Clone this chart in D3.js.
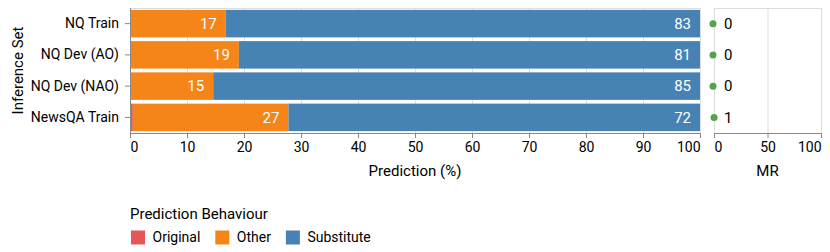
<!DOCTYPE html>
<html>
<head>
<meta charset="utf-8">
<script src="https://cdn.jsdelivr.net/npm/d3@7"></script>
<style>
  body { margin: 0; background: #fff; }
  text { font-family: Roboto, sans-serif; }
</style>
</head>
<body>
<svg id="chart" width="830" height="252"></svg>
<script>
const sets = ['NQ Train', 'NQ Dev (AO)', 'NQ Dev (NAO)', 'NewsQA Train'];
const original = [0, 0, 0, 0.5];
const other = [16.8, 19.1, 14.6, 27.3];
const substitute = [83.2, 80.9, 85.4, 72.2];
const mr = [0, 0, 0, 1];
const behaviours = ['Original', 'Other', 'Substitute'];
const colours = ['#e45756', '#f58518', '#4682b4'];
const xTicks = [0, 10, 20, 30, 40, 50, 60, 70, 80, 90, 100];
const mrTicks = [0, 50, 100];

const svg = d3.select('#chart');
const plotTop = 8, plotBottom = 133;

const x = d3.scaleLinear().domain([0, 100]).range([130, 700]);
const xm = d3.scaleLinear().domain([0, 100]).range([714, 821]);
const y = d3.scaleBand().domain(sets).range([plotTop, plotBottom]).paddingInner(0.12).paddingOuter(0.06);
const color = d3.scaleOrdinal().domain(behaviours).range(colours);

// grid + view border
function frame(sc, ticks) {
  const g = svg.append('g');
  g.selectAll('line').data(ticks).enter().append('line')
    .attr('x1', d => sc(d) + 0.5).attr('x2', d => sc(d) + 0.5)
    .attr('y1', plotTop).attr('y2', plotBottom)
    .attr('stroke', '#ddd');
  g.append('rect')
    .attr('x', sc.range()[0] + 0.5).attr('y', plotTop + 0.5)
    .attr('width', sc.range()[1] - sc.range()[0]).attr('height', plotBottom - plotTop)
    .attr('fill', 'none').attr('stroke', '#ddd');
}
frame(x, xTicks);
frame(xm, mrTicks);

// stacked bars
const rows = sets.map((s, i) => ({ set: s, Original: original[i], Other: other[i], Substitute: substitute[i] }));
const stacked = d3.stack().keys(behaviours)(rows);

svg.append('g').selectAll('g').data(stacked).enter().append('g')
  .attr('fill', d => color(d.key))
  .selectAll('rect').data(d => d).enter().append('rect')
  .attr('x', d => x(d[0]))
  .attr('y', d => y(d.data.set))
  .attr('width', d => x(d[1]) - x(d[0]))
  .attr('height', y.bandwidth());

// value labels
const labels = [];
stacked.forEach(layer => layer.forEach(d => {
  const v = d[1] - d[0];
  if (v >= 5) labels.push({ set: d.data.set, end: d[1], v });
}));
svg.append('g').selectAll('text').data(labels).enter().append('text')
  .attr('x', d => x(d.end) - 9)
  .attr('y', d => y(d.set) + y.bandwidth() / 2)
  .attr('dy', '0.35em')
  .attr('text-anchor', 'end')
  .attr('fill', '#fff')
  .style('font-size', '15px')
  .text(d => Math.round(d.v));

// MR points
const mrRows = sets.map((s, i) => ({ set: s, v: mr[i] }));
svg.append('g').selectAll('circle').data(mrRows).enter().append('circle')
  .attr('cx', d => xm(d.v) - 1)
  .attr('cy', d => y(d.set) + y.bandwidth() / 2)
  .attr('r', 3.5)
  .attr('fill', '#54a24b');
svg.append('g').selectAll('text').data(mrRows).enter().append('text')
  .attr('x', d => xm(0) + 10)
  .attr('y', d => y(d.set) + y.bandwidth() / 2)
  .attr('dy', '0.35em')
  .attr('fill', '#000')
  .style('font-size', '15px')
  .text(d => d.v);

// axes
function bottomAxis(sc, ticks) {
  const g = svg.append('g').attr('transform', `translate(0,${plotBottom})`)
    .call(d3.axisBottom(sc).tickValues(ticks).tickSize(5).tickPadding(4));
  g.select('.domain').attr('stroke', '#888');
  g.selectAll('.tick line').attr('stroke', '#888');
  g.selectAll('.tick text')
    .style('font-size', '14px').style('font-family', 'Roboto, sans-serif').attr('fill', '#000')
    .attr('text-anchor', (d, i) => i === 0 ? 'start' : i === ticks.length - 1 ? 'end' : 'middle');
  return g;
}
bottomAxis(x, xTicks);
bottomAxis(xm, mrTicks);

const ya = svg.append('g').attr('transform', 'translate(130,0)')
  .call(d3.axisLeft(y).tickSize(5).tickPadding(6));
ya.select('.domain').attr('stroke', '#888').attr('d', `M0.5,${plotTop}V${plotBottom}`);
ya.selectAll('.tick line').attr('stroke', '#888');
ya.selectAll('.tick text').style('font-size', '14px').style('font-family', 'Roboto, sans-serif').attr('fill', '#000');

// titles
svg.append('text').attr('x', (x.range()[0] + x.range()[1]) / 2).attr('y', 176)
  .attr('text-anchor', 'middle').style('font-size', '15px').text('Prediction (%)');
svg.append('text').attr('x', (xm.range()[0] + xm.range()[1]) / 2).attr('y', 176)
  .attr('text-anchor', 'middle').style('font-size', '15px').text('MR');
svg.append('text').attr('transform', `translate(23,${(plotTop + plotBottom) / 2}) rotate(-90)`)
  .attr('text-anchor', 'middle').style('font-size', '15px').text('Inference Set');

// legend
const lg = svg.append('g');
lg.append('text').attr('x', 130).attr('y', 218.5).style('font-size', '15px').text('Prediction Behaviour');
let lx = 131;
behaviours.forEach(b => {
  lg.append('rect').attr('x', lx).attr('y', 230.5).attr('width', 14).attr('height', 14).attr('fill', color(b));
  const t = lg.append('text').attr('x', lx + 21.5).attr('y', 242).style('font-size', '14px').text(b);
  lx += 21.5 + t.node().getComputedTextLength() + 15;
});
</script>
</body>
</html>
